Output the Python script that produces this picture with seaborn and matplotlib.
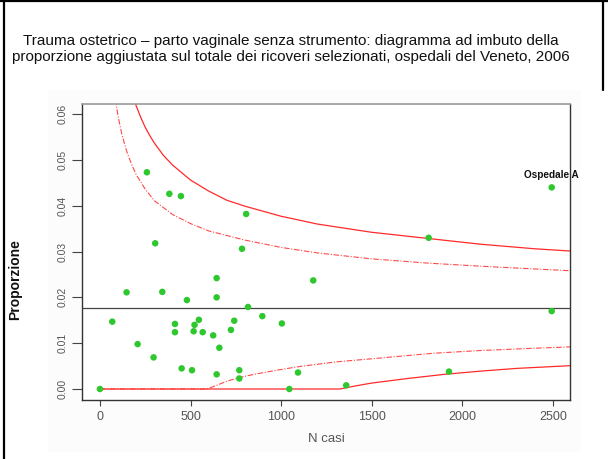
import matplotlib
matplotlib.use("Agg")
import matplotlib.pyplot as plt
import seaborn as sns
import pandas as pd
from matplotlib.patches import Rectangle
from matplotlib.lines import Line2D

# ---- data ----
n_casi = [259, 383, 447, 807, 305, 784, 147, 344, 480, 68, 414, 546, 522, 414,
          517, 567, 208, 296, 451, 508, 0, 644, 1177, 644, 817, 896, 741, 1004,
          625, 723, 659, 644, 769, 769, 1093, 1045, 1814, 2493, 1926, 1359, 2493]
proporzione = [0.0473, 0.0426, 0.0421, 0.0382, 0.0318, 0.0306, 0.0211, 0.0212,
               0.0194, 0.0147, 0.0142, 0.0151, 0.0140, 0.0124, 0.0126, 0.0124,
               0.0098, 0.0069, 0.0045, 0.0041, 0.0000, 0.0242, 0.0237, 0.0200,
               0.0179, 0.0159, 0.0149, 0.0143, 0.0117, 0.0129, 0.0090, 0.0032,
               0.0041, 0.0023, 0.0036, 0.0000, 0.0330, 0.0170, 0.0038, 0.0008,
               0.0440]
media = 0.0176

# control limits
sup99_n = [190, 200, 225, 250, 275, 300, 350, 400, 500, 600, 700, 800, 1000,
           1200, 1500, 1800, 2100, 2400, 2600]
sup99_p = [0.0630, 0.0618, 0.0593, 0.0571, 0.0553, 0.0537, 0.0510, 0.0489,
           0.0456, 0.0432, 0.0412, 0.0399, 0.0377, 0.0360, 0.0342, 0.0329,
           0.0316, 0.0306, 0.0301]
sup95_n = [85, 90, 100, 110, 120, 135, 150, 175, 200, 250, 300, 400, 500, 600,
           800, 1000, 1200, 1500, 1800, 2100, 2400, 2600]
sup95_p = [0.0632, 0.0619, 0.0596, 0.0576, 0.0558, 0.0536, 0.0516, 0.0490,
           0.0468, 0.0436, 0.0411, 0.0381, 0.0361, 0.0345, 0.0325, 0.0309,
           0.0297, 0.0284, 0.0275, 0.0268, 0.0262, 0.0258]
inf99_n = [0, 1325, 1400, 1500, 1700, 1900, 2100, 2300, 2600]
inf99_p = [0.0, 0.0, 0.0006, 0.0013, 0.0023, 0.0032, 0.0039, 0.0045, 0.0051]
inf95_n = [0, 590, 650, 700, 769, 850, 975, 1100, 1300, 1500, 1839, 2100,
           2400, 2600]
inf95_p = [0.0, 0.0, 0.0009, 0.0017, 0.0025, 0.0032, 0.0041, 0.0049, 0.0059,
           0.0066, 0.0078, 0.0084, 0.0089, 0.0092]

x_ticks = [0, 500, 1000, 1500, 2000, 2500]
y_ticks = [0.00, 0.01, 0.02, 0.03, 0.04, 0.05, 0.06]
y_ticklabels = ["0.00", "0.01", "0.02", "0.03", "0.04", "0.05", "0.06"]

titolo = ("Trauma ostetrico \u2013 parto vaginale senza strumento: diagramma ad imbuto della\n"
          "proporzione aggiustata sul totale dei ricoveri selezionati, ospedali del Veneto, 2006")
etichetta = "Ospedale A"
etichetta_idx = 40

# ---- plotting ----
sns.set_theme(style="white")
plt.rcParams["font.family"] = ["Liberation Sans", "DejaVu Sans"]

W, H = 608, 459
fig = plt.figure(figsize=(W / 100, H / 100), dpi=100)
fig.patch.set_facecolor("white")

# faint background of the embedded chart picture
fig.add_artist(Rectangle((48 / W, 1 - 452 / H), (581 - 48) / W, (452 - 90) / H,
                         transform=fig.transFigure, facecolor="#fcfcfc",
                         edgecolor="none", zorder=0))

ax = fig.add_axes([82 / W, 1 - 400 / H, (570 - 82) / W, (400 - 104) / H])
ax.set_facecolor("white")

df_pts = pd.DataFrame({"n": n_casi, "p": proporzione})
red = "#ff2a2a"
sns.lineplot(x=sup99_n, y=sup99_p, ax=ax, color=red, lw=0.9, sort=False,
             estimator=None, zorder=2)
sns.lineplot(x=inf99_n, y=inf99_p, ax=ax, color=red, lw=0.9, sort=False,
             estimator=None, zorder=2)
sns.lineplot(x=sup95_n, y=sup95_p, ax=ax, color=red, lw=0.8, sort=False,
             estimator=None, zorder=2)
sns.lineplot(x=inf95_n, y=inf95_p, ax=ax, color=red, lw=0.8, sort=False,
             estimator=None, zorder=2)
for ln in ax.lines[2:4]:
    ln.set_dashes((5, 1.5, 1, 1.5))
    ln.set_alpha(0.85)

ax.axhline(media, color="#454545", lw=0.9, zorder=2)

sns.scatterplot(data=df_pts, x="n", y="p", ax=ax, color="#2ec82e", s=22,
                edgecolor="none", zorder=3)

ax.text(n_casi[etichetta_idx], 0.0467, etichetta, ha="center", va="center",
        fontsize=7.2, fontweight="bold", color="#111111", clip_on=False)

ax.set_xlim(-99, 2594)
ax.set_ylim(-0.0024, 0.0622)
ax.set_xticks(x_ticks)
ax.set_xticklabels([str(v) for v in x_ticks])
ax.set_yticks(y_ticks)
ax.set_yticklabels(y_ticklabels, rotation=90, va="center")
ax.tick_params(axis="x", direction="out", length=4, width=0.8, color="#444444",
               labelsize=9, labelcolor="#555555", pad=4, bottom=True)
ax.tick_params(axis="y", direction="out", length=7, width=0.8, color="#444444",
               labelsize=7.5, labelcolor="#555555", pad=3, left=True)
ax.set_xlabel("N casi", fontsize=9.5, color="#555555", labelpad=7)
ax.set_ylabel("")
for side in ["left", "bottom", "right"]:
    ax.spines[side].set_visible(True)
    ax.spines[side].set_color("#333333")
    ax.spines[side].set_linewidth(1.0)
ax.spines["top"].set_visible(True)
ax.spines["top"].set_color("#9a9a9a")
ax.spines["top"].set_linewidth(1.2)

fig.text(15 / W, 1 - 280 / H, "Proporzione", rotation=90, ha="center",
         va="center", fontsize=10, fontweight="bold", color="#111111")

fig.text(291 / W, 1 - 49 / H, titolo, ha="center", va="center", fontsize=11,
         color="#111111", linespacing=1.2)

# slide frame
fig.add_artist(Line2D([3.5 / W, 3.5 / W], [0, 1], transform=fig.transFigure,
                      color="black", lw=1.6))
fig.add_artist(Line2D([0, 1], [1 - 1 / H, 1 - 1 / H], transform=fig.transFigure,
                      color="black", lw=1.6))
fig.add_artist(Line2D([603 / W, 603 / W], [1, 1 - 90 / H],
                      transform=fig.transFigure, color="black", lw=1.6))

fig.savefig("out.png", dpi=100)
